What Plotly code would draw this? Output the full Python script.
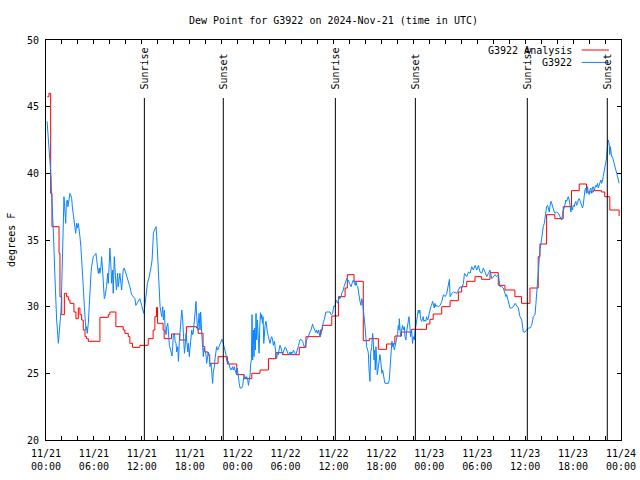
import pandas as pd
import plotly.graph_objects as go

# ---- data (minutes after 2024-11-21 00:00 UTC, degrees F) ----
analysis_minutes = [10, 22, 35, 45, 98, 105, 118, 138, 155, 168, 180, 210, 225, 243, 255, 268, 280, 293, 305, 318,
                    405, 468, 480, 525, 580, 593, 618, 630, 650, 705, 768, 805, 818, 830, 838, 880, 888, 943, 1005,
                    1055, 1130, 1143, 1180, 1193, 1218, 1230, 1293, 1363, 1433, 1488, 1546, 1608, 1671, 1726, 1778,
                    1903, 1953, 2061, 2076, 2147, 2197, 2247, 2264, 2314, 2384, 2429, 2497, 2559, 2621, 2671, 2746,
                    2859, 2884, 2909, 2973, 3036, 3098, 3123, 3161, 3223, 3273, 3336, 3398, 3448, 3523, 3573, 3636,
                    3698, 3711, 3761, 3823, 3886, 3948, 4006, 4061, 4111, 4173, 4198, 4236, 4306]
analysis_values = [45.75, 46.0, 38.5, 36.0, 34.0, 30.75, 29.4, 31.0, 30.75, 30.5, 30.25, 29.6, 29.1, 29.9, 29.4, 29.0,
                   28.25, 27.75, 27.6, 27.4, 29.2, 29.4, 29.6, 28.5, 28.25, 28.0, 27.75, 27.25, 26.95, 27.1, 27.6,
                   28.25, 29.25, 29.95, 28.75, 28.25, 27.6, 27.95, 27.5, 28.5, 28.4, 28.0, 27.0, 26.6, 26.4, 25.75,
                   26.25, 25.7, 24.9, 24.6, 25.0, 25.25, 26.1, 26.55, 26.4, 26.95, 27.75, 28.25, 28.6, 29.3, 30.75,
                   31.4, 32.4, 31.9, 27.45, 27.6, 26.8, 27.2, 27.8, 28.1, 28.3, 28.7, 29.05, 29.45, 30.0, 30.45,
                   31.1, 31.5, 31.9, 32.25, 32.05, 32.55, 31.6, 31.25, 30.75, 30.25, 31.4, 33.75, 34.7, 36.9, 36.6,
                   37.5, 38.7, 39.2, 38.6, 38.7, 38.6, 38.25, 37.25, 36.8]

station_minutes = [8, 17, 25, 30, 38, 43, 55, 68, 80, 93, 100, 105, 113, 118, 123, 128, 135, 140, 148, 153, 160, 165,
                   173, 180, 185, 193, 198, 205, 210, 218, 223, 230, 235, 243, 248, 255, 262, 275, 280, 288, 293, 300,
                   305, 310, 318, 325, 330, 338, 343, 350, 355, 368, 375, 380, 388, 393, 400, 405, 413, 418, 425, 430,
                   438, 443, 450, 455, 463, 468, 475, 480, 488, 493, 500, 505, 513, 518, 525, 530, 538, 543, 550, 555,
                   563, 568, 575, 580, 588, 600, 613, 630, 643, 655, 668, 675, 693, 705, 718, 725, 735,
                   745, 752, 762, 772, 782, 790, 797, 802, 807, 815, 820, 827, 832, 837, 845, 852, 857, 865, 870, 877,
                   882, 890, 895, 902, 907, 915, 920, 927, 932, 940, 947, 952, 957, 965, 970, 977, 982, 990, 995, 1002,
                   1007, 1015, 1020, 1027, 1032, 1040, 1045, 1052, 1057, 1065, 1070, 1077, 1082, 1090, 1095, 1102,
                   1107, 1115, 1120, 1127, 1132, 1140, 1145, 1150, 1157, 1162, 1170, 1177, 1182, 1187, 1195, 1202,
                   1207, 1212, 1220, 1227, 1232, 1240, 1245, 1252, 1257, 1265, 1270, 1277, 1282, 1290, 1295, 1302,
                   1307, 1315, 1322, 1327, 1332, 1340, 1345, 1352, 1357, 1365, 1370, 1377, 1382, 1390, 1395, 1402,
                   1407, 1415, 1420, 1427, 1432, 1437, 1445, 1452,
                   1458, 1471, 1478, 1483, 1488, 1496, 1503, 1508, 1516, 1521, 1528, 1533, 1538, 1543, 1548, 1553,
                   1558, 1563, 1568, 1573, 1578, 1583, 1588, 1596, 1601, 1606, 1611, 1616, 1621, 1626, 1631, 1636,
                   1641, 1646, 1653, 1658, 1663, 1671, 1678, 1683, 1688, 1696, 1703, 1708, 1716, 1721, 1728, 1733,
                   1738, 1746, 1753, 1758, 1766, 1771, 1778, 1783, 1791, 1796, 1803, 1808, 1816, 1821, 1828, 1833,
                   1841, 1846, 1853, 1858, 1866, 1871, 1878, 1883, 1891, 1898, 1903, 1908, 1916, 1923, 1928, 1933,
                   1941, 1948, 1953, 1958, 1966, 1971, 1978, 1983, 1991, 1996, 2003, 2008, 2016, 2021, 2028, 2033,
                   2041, 2048, 2053, 2058, 2066, 2071, 2078, 2083, 2091, 2098, 2103, 2121, 2133, 2141, 2146, 2153,
                   2158, 2163, 2171, 2179,
                   2184, 2192, 2198, 2204, 2209, 2217, 2222, 2229, 2234, 2239, 2247, 2254, 2259, 2267, 2272, 2279,
                   2284, 2292, 2299, 2304, 2309, 2317, 2324, 2329, 2334, 2342, 2347, 2354, 2359, 2367, 2372, 2379,
                   2384, 2392, 2397, 2404, 2409, 2417, 2422, 2427, 2434, 2439, 2447, 2454, 2459, 2464, 2469, 2474,
                   2479, 2484, 2489, 2497, 2502, 2509, 2514, 2519, 2524, 2529, 2534, 2542, 2547, 2559, 2572, 2579,
                   2584, 2589, 2594, 2599, 2604, 2609, 2617, 2622, 2629, 2634, 2642, 2647, 2652, 2654, 2659, 2664,
                   2672, 2679, 2684, 2692, 2697, 2704, 2709, 2717, 2722, 2727, 2734, 2739, 2747, 2754, 2759, 2767,
                   2772, 2777, 2784, 2789, 2797, 2804, 2809, 2814, 2822, 2829, 2834, 2839, 2847, 2854, 2859, 2867,
                   2872, 2879, 2884, 2892, 2897, 2904, 2909, 2917, 2922, 2929, 2934,
                   2949, 2961, 2974, 2986, 2999, 3011, 3024, 3031, 3036, 3049, 3061, 3086, 3099, 3111, 3124, 3136,
                   3144, 3154, 3161, 3174, 3186, 3199, 3211, 3224, 3236, 3249, 3261, 3274, 3286, 3299, 3311, 3324,
                   3336, 3349, 3361, 3374, 3386, 3399, 3411, 3424, 3436, 3449, 3456, 3461, 3474, 3486, 3499, 3511,
                   3524, 3536, 3549, 3561, 3574, 3586, 3599, 3611, 3624, 3636, 3649, 3661, 3674, 3681, 3686, 3694,
                   3699, 3706, 3711, 3719, 3724, 3731, 3736, 3744, 3749, 3756, 3761, 3769, 3774, 3781, 3786, 3794,
                   3799, 3806, 3811, 3819, 3824, 3836, 3849, 3861, 3869, 3874, 3881, 3886, 3894, 3899, 3906, 3911,
                   3919, 3924, 3931, 3936, 3944, 3949, 3956, 3961, 3969, 3974, 3981, 3986, 3994, 3999, 4006, 4011,
                   4019, 4024, 4031, 4036, 4044, 4049, 4056, 4061, 4069, 4074, 4081, 4086, 4094, 4099, 4106, 4111,
                   4119, 4124, 4131, 4136, 4144, 4149, 4156, 4161, 4169, 4174, 4181, 4186, 4194, 4199, 4206, 4211,
                   4216, 4224, 4231, 4236, 4241, 4249, 4256, 4261, 4269, 4274, 4281, 4286, 4294, 4301, 4306]
station_values = [43.9, 42.6, 41.75, 40.9, 39.75, 38.1, 35.75, 32.0, 29.0, 27.25, 28.25, 28.6, 29.75, 31.5, 33.5, 36.0,
                  38.25, 37.5, 36.25, 37.75, 38.0, 37.5, 38.25, 38.5, 38.4, 38.1, 37.5, 37.0, 36.25, 36.0, 35.5, 36.25,
                  35.9, 36.25, 35.9, 35.25, 34.5, 32.75, 31.5, 30.0, 29.0, 28.25, 28.5, 28.0, 28.75, 30.25, 31.75,
                  32.5, 33.0, 33.5, 33.75, 33.9, 34.0, 33.6, 33.0, 32.5, 32.9, 32.5, 33.0, 33.75, 32.75, 31.6, 30.6,
                  30.75, 31.25, 31.5, 32.5, 31.75, 33.25, 34.4, 33.0, 31.75, 32.75, 31.0, 33.75, 32.5, 31.75, 31.25,
                  32.5, 31.5, 32.0, 32.5, 31.75, 31.25, 32.1, 32.75, 32.9, 32.5, 32.1, 31.5, 30.9, 30.75, 30.6, 30.1,
                  30.4, 30.6, 30.1, 29.9, 29.5,
                  30.25, 31.1, 31.75, 32.1, 32.5, 33.0, 33.5, 34.75, 35.5, 35.75, 35.9, 36.0, 35.25, 34.0, 32.5,
                  31.0, 30.0, 29.5, 29.25, 30.0, 29.0, 29.75, 28.25, 27.9, 28.5, 28.75, 27.75, 27.1, 26.9, 26.5,
                  26.3, 27.0, 27.9, 28.0, 27.4, 27.25, 26.6, 27.0, 25.9, 27.5, 28.0, 29.0, 29.75, 29.0, 27.75, 26.5,
                  27.0, 28.0, 27.5, 26.6, 27.25, 26.25, 26.9, 28.0, 28.25, 27.9, 28.1, 29.0, 29.75, 30.4, 29.25,
                  28.25, 28.75, 29.5, 28.25, 29.6, 28.0, 27.0, 26.25, 26.9, 26.5, 26.4, 25.75, 26.25, 26.6, 26.25,
                  25.5, 25.75, 24.9, 24.25, 25.1, 25.5, 26.1, 26.9, 27.0, 26.75, 26.9, 27.1, 27.25, 27.4, 27.55,
                  27.45, 27.25, 27.0, 26.6, 26.4, 26.0, 25.75, 25.9, 25.5, 25.4, 25.25, 25.4, 25.5, 25.25, 25.5,
                  25.25, 25.0, 24.9, 25.4, 24.5, 24.25,
                  23.9, 23.9, 24.1, 24.75, 24.9, 24.75, 24.6, 24.75, 24.5, 24.1, 24.5, 24.9, 25.75, 26.0, 29.4, 26.0,
                  28.25, 26.25, 28.4, 26.75, 29.5, 27.5, 29.0, 27.1, 26.5, 28.5, 29.55, 29.1, 29.4, 28.75, 29.25,
                  27.25, 28.6, 28.6, 28.9, 28.4, 28.1, 27.75, 27.5, 27.25, 27.5, 27.75, 27.5, 27.1, 27.4, 27.0,
                  26.25, 26.1, 26.5, 26.4, 26.9, 27.1, 26.9, 26.75, 26.4, 26.6, 26.9, 26.95, 26.9, 26.75, 26.45,
                  26.4, 26.4, 26.6, 26.4, 26.6, 26.5, 26.75, 26.6, 26.5, 26.4, 26.6, 26.8, 27.1, 27.3, 27.5, 27.55,
                  27.5, 27.4, 27.25, 26.95, 27.05, 27.4, 27.5, 27.6, 27.75, 28.05, 28.1, 28.25, 28.5, 28.7, 28.5,
                  28.25, 28.1, 28.05, 28.25, 28.0, 28.25, 27.9, 27.75, 27.9, 28.25, 28.5, 28.8, 29.05, 29.45, 29.6,
                  29.6, 29.6, 29.4, 29.4, 29.5, 29.75, 30.05, 30.0, 30.5,
                  30.4, 30.25, 30.5, 30.75, 30.6, 30.75, 31.0, 31.1, 31.25, 31.5, 31.75, 32.0, 32.1, 31.9, 32.0,
                  31.75, 31.6, 31.5, 31.75, 31.9, 32.0, 31.75, 31.6, 31.9, 31.6, 31.5, 31.1, 30.6, 30.4, 30.1, 30.6,
                  30.25, 29.5, 29.0, 28.5, 27.75, 27.0, 26.75, 26.5, 25.25, 24.4, 26.5, 27.0, 28.0, 27.4, 26.0,
                  26.75, 25.25, 27.0, 26.0, 24.9, 25.5, 26.0, 26.4, 26.0, 25.25, 25.0, 25.25, 24.75, 24.5, 24.25,
                  24.25, 24.25, 24.5, 25.0, 26.0, 26.75, 27.4, 27.0, 27.25, 26.75, 27.0, 27.25, 27.6, 28.0, 28.6,
                  28.25, 29.1, 28.5, 27.75, 28.25, 28.6, 28.25, 28.5, 27.75, 27.5, 28.1, 28.6, 29.0, 29.25, 28.5,
                  27.75, 28.25, 27.25, 27.75, 27.5, 28.1, 28.5, 28.75, 29.1, 29.75, 29.5, 29.75, 29.1, 28.9, 29.1,
                  29.25, 28.9, 29.0, 28.9, 29.25, 29.0, 29.1, 29.5, 29.75, 30.0, 30.1, 30.4, 30.25, 29.9, 30.25,
                  30.0, 30.1,
                  30.0, 30.1, 30.4, 30.9, 30.75, 31.0, 31.6, 32.05, 30.75, 31.0, 31.1, 31.0, 31.25, 31.5, 31.4,
                  31.75, 32.5, 32.4, 32.25, 32.6, 32.5, 33.0, 32.75, 33.1, 32.75, 33.1, 32.6, 32.5, 32.9, 32.6,
                  32.25, 32.5, 32.75, 32.1, 32.25, 32.4, 32.25, 32.4, 31.5, 31.5, 31.4, 31.0, 30.75, 30.9, 30.25,
                  29.9, 29.9, 30.0, 30.25, 30.1, 29.9, 29.25, 29.0, 28.1, 28.1, 28.25, 28.4, 28.4, 28.6, 29.25,
                  29.4, 30.25, 31.0, 32.1, 32.75, 33.5, 34.25, 34.75, 35.25, 35.5, 36.0, 36.25, 36.6, 37.1, 37.5,
                  37.6, 37.25, 37.1, 37.5, 37.9, 37.75, 37.5, 37.25, 37.1, 37.0, 37.1, 37.0, 36.75, 36.6, 36.5,
                  36.9, 37.25, 37.4, 37.75, 38.0, 37.9, 38.1, 38.25, 38.0, 37.75, 37.1, 37.5, 37.25, 37.6, 37.5,
                  37.75, 37.9, 37.6, 37.75, 38.0, 38.1, 38.0, 37.75, 37.6, 37.4, 37.6, 38.5, 38.75, 38.9, 38.5,
                  39.0, 38.5, 38.4, 38.75, 38.9, 38.5, 38.9, 39.0, 38.75, 39.0, 39.1, 39.0, 39.25, 38.9, 39.1,
                  39.4, 39.5, 39.25, 39.4, 39.75, 40.25, 40.6, 40.75, 41.1, 41.75, 42.5, 42.25, 41.4, 42.0, 41.25,
                  41.25, 41.0, 40.75, 40.5, 40.25, 40.1, 39.75, 39.4, 39.25]

sun_event_minutes = [739, 1332, 2174, 2775, 3616, 4217]
sun_event_labels = ["Sunrise", "Sunset", "Sunrise", "Sunset", "Sunrise", "Sunset"]

series_names = ["G3922 Analysis", "G3922"]
series_colors = ["#ff0000", "#0a84ff"]

title_text = "Dew Point for G3922 on 2024-Nov-21 (time in UTC)"
y_label = "degrees F"

base = pd.Timestamp("2024-11-21 00:00:00")
def to_time(mins):
    return [base + pd.Timedelta(minutes=m) for m in mins]

FONT = "DejaVu Sans Mono"
FIG_W, FIG_H = 640, 480

fig = go.Figure()
fig.add_trace(go.Scatter(x=to_time(analysis_minutes), y=analysis_values, mode="lines",
                         line=dict(color=series_colors[0], width=1, shape="hv"), name=series_names[0]))
fig.add_trace(go.Scatter(x=to_time(station_minutes), y=station_values, mode="lines",
                         line=dict(color=series_colors[1], width=1), name=series_names[1]))

shapes = []
annotations = []
for m, lab in zip(sun_event_minutes, sun_event_labels):
    t = base + pd.Timedelta(minutes=m)
    shapes.append(dict(type="line", xref="x", yref="paper", x0=t, x1=t, y0=0, y1=0.855,
                       line=dict(color="black", width=1)))
    annotations.append(dict(x=t, xref="x", y=0.872, yref="paper", text=lab, textangle=-90,
                            showarrow=False, xanchor="center", yanchor="bottom",
                            font=dict(family=FONT, size=10, color="black")))

# manual gnuplot-style key (text right, sample line at right)
for i, (nm, col) in enumerate(zip(series_names, series_colors)):
    yp = 0.975 - i * 0.031
    annotations.append(dict(x=0.918, xref="paper", y=yp, yref="paper", text=nm, showarrow=False,
                            xanchor="right", yanchor="middle", font=dict(family=FONT, size=10, color="black")))
    shapes.append(dict(type="line", xref="paper", yref="paper", x0=0.9317, x1=0.979, y0=yp, y1=yp,
                       line=dict(color=col, width=1)))

annotations.append(dict(x=-0.061, xref="paper", y=0.5, yref="paper", text=y_label, textangle=-90,
                        showarrow=False, xanchor="center", yanchor="middle",
                        font=dict(family=FONT, size=10, color="black")))

fig.update_layout(
    width=FIG_W, height=FIG_H,
    margin=dict(l=46, r=19, t=40, b=40, autoexpand=False),
    paper_bgcolor="white", plot_bgcolor="white",
    showlegend=False,
    font=dict(family=FONT, size=10, color="black"),
    title=dict(text=title_text, x=0.5, xref="paper", xanchor="center", y=1 - 20 / FIG_H, yanchor="middle",
               font=dict(family=FONT, size=10, color="black"), automargin=False),
    shapes=shapes, annotations=annotations,
)
fig.update_xaxes(
    type="date", range=[base, base + pd.Timedelta(hours=72)], automargin=False,
    tick0=base, dtick=6 * 3600 * 1000, tickformat="%m/%d<br>%H:%M",
    ticks="inside", ticklen=4, tickcolor="black", tickwidth=1,
    minor=dict(dtick=2 * 3600 * 1000, ticks="inside", ticklen=4, tickcolor="black", showgrid=False),
    showgrid=False, zeroline=False, showline=True, linecolor="black", linewidth=1, mirror="ticks",
    tickfont=dict(family=FONT, size=10, color="black"), ticklabelstandoff=4,
)
fig.update_yaxes(
    range=[20, 50], dtick=5, tick0=20, automargin=False,
    ticks="inside", ticklen=4, tickcolor="black", tickwidth=1,
    showgrid=False, zeroline=False, showline=True, linecolor="black", linewidth=1, mirror="ticks",
    tickfont=dict(family=FONT, size=10, color="black"), ticklabelstandoff=4,
)

# remove the page's default body margin so the 640x480 figure fills the window exactly
fig.write_html("out.html", config={"displayModeBar": False},
               post_script="document.body.style.margin='0';document.body.style.overflow='hidden';")
